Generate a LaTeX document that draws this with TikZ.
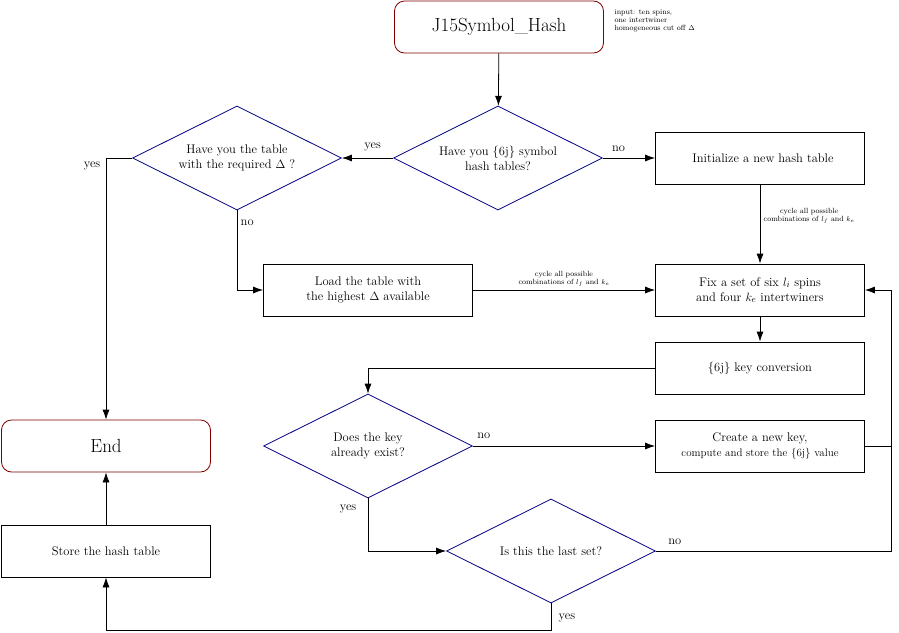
\documentclass[tikz,border=0pt]{standalone}
\usetikzlibrary{shapes.geometric,arrows.meta}
\begin{document}
\begin{tikzpicture}[x=1pt,y=-1pt,
  box/.style={draw,thick,minimum width=209pt,minimum height=52pt,inner sep=1pt,align=center,font=\fontsize{12.5}{15}\selectfont},
  term/.style={box,draw=red!50!black,rounded corners=10pt,font=\fontsize{19}{22}\selectfont},
  dec/.style={diamond,draw=blue!50!black,thick,minimum width=209pt,minimum height=104pt,aspect=2,inner sep=0pt,align=center,font=\fontsize{12.5}{15}\selectfont},
  arr/.style={-{Latex[length=10pt,width=7pt]},thick},
  ln/.style={thick},
  lbl/.style={font=\fontsize{12.5}{15}\selectfont},
  tin/.style={font=\fontsize{7.5}{8}\selectfont,align=center}]
\useasboundingbox (0,0) rectangle (899,632);
\node[term] (j15) at (499,27) {J15Symbol\_Hash};
\node[tin,align=left,anchor=west] (inp) at (611,21) {input: ten spins,\\one intertwiner\\homogeneous cut off $\Delta$};
\node[dec] (d1) at (498,158) {Have you \{6j\} symbol\\hash tables?};
\node[dec] (d2) at (237,158) {Have you the table\\with the required $\Delta$ ?};
\node[box] (init) at (760,158) {\hspace*{6pt}Initialize a new hash table};
\node[box] (load) at (368,290) {Load the table with\\the highest $\Delta$ available};
\node[box] (fix) at (760,290) {Fix a set of six $l_i$ spins\\and four $k_e$ intertwiners};
\node[box] (key) at (760,368) {\{6j\} key conversion};
\node[dec] (d3) at (368,446) {Does the key\\already exist?};
\node[box] (create) at (760,446) {Create a new key,\\{\fontsize{11}{13}\selectfont compute and store the \{6j\} value}};
\node[dec] (d4) at (551,551) {Is this the last set?};
\node[term] (end) at (106,446) {End};
\node[box] (store) at (106,551) {Store the hash table};
\coordinate (c1) at (106,158);
\coordinate (c2) at (237,290);
\coordinate (c3) at (368,368);
\coordinate (c4) at (368,551);
\coordinate (c5) at (891,446);
\coordinate (c6) at (891,551);
\coordinate (c7) at (891,290);
\coordinate (c8) at (551,630);
\coordinate (c9) at (106,630);
\draw[arr] (j15) -- (d1);
\draw[arr] (d1.west) -- node[lbl,above,pos=0.4,yshift=3pt]{yes} (d2.east);
\draw[arr] (d1.east) -- node[lbl,above,pos=0.3,yshift=3pt]{no} (init.west);
\draw[arr] (init) -- node[tin,right,pos=0.4]{cycle all possible\\combinations of $l_f$ and $k_e$} (fix);
\draw[arr] (d2.west) -- (c1) node[lbl,below left,xshift=-2pt]{yes} -- (end.north);
\draw[arr] (d2.south) -- node[lbl,right,pos=0.15]{no} (c2) -- (load.west);
\draw[arr] (load) -- node[tin,above]{cycle all possible\\combinations of $l_f$ and $k_e$} (fix);
\draw[arr] (fix) -- (key);
\draw[arr] (key.west) -- (c3) -- (d3.north);
\draw[arr] (d3.east) -- node[lbl,above,pos=0.06,yshift=4pt]{no} (create.west);
\draw[arr] (d3.south) -- node[lbl,left,pos=0.2,xshift=-8pt]{yes} (c4) -- (d4.west);
\draw[ln] (create.east) -- (c5);
\draw[arr] (d4.east) -- node[lbl,above,pos=0.08,yshift=3pt]{no} (c6) -- (c7) -- (fix.east);
\draw[arr] (d4.south) -- node[lbl,right,pos=0.55,xshift=4pt]{yes} (c8) -- (c9) -- (store.south);
\draw[arr] (store) -- (end);
\end{tikzpicture}
\end{document}
